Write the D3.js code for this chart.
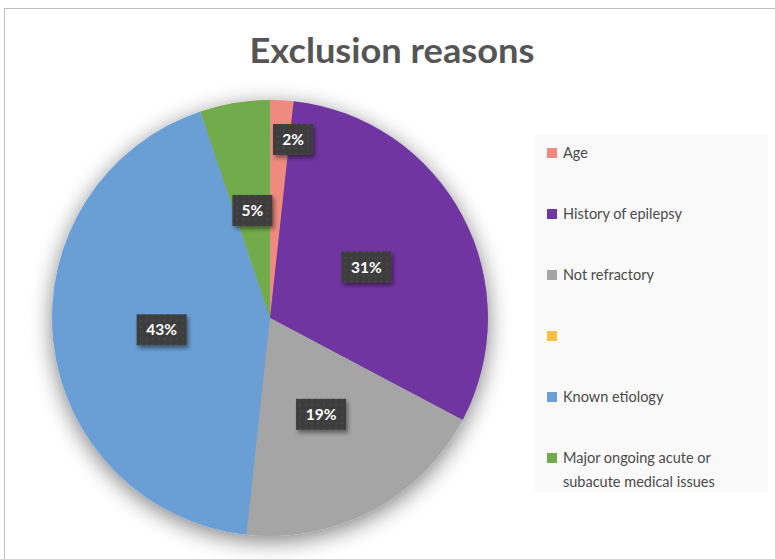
<!DOCTYPE html>
<html>
<head>
<meta charset="utf-8">
<script src="https://cdn.jsdelivr.net/npm/d3@7"></script>
<style>
  body { margin: 0; background: #fff; }
  svg { display: block; }
</style>
</head>
<body>
<svg id="chart"></svg>
<script>
// data
var categories = ["Age", "History of epilepsy", "Not refractory", "", "Known etiology", "Major ongoing acute or subacute medical issues"];
var counts = [1, 18, 11, 0, 25, 3];
var labels = ["2%", "31%", "19%", "", "43%", "5%"];
var colors = ["#ee8a7e", "#6f35a0", "#a5a5a5", "#f5c040", "#6a9fd6", "#72ab4c"];
var legendLines = [["Age"], ["History of epilepsy"], ["Not refractory"], [""], ["Known etiology"], ["Major ongoing acute or", "subacute medical issues"]];

var width = 775, height = 559;
var cx = 270, cy = 318, radius = 218;

var svg = d3.select("#chart")
    .attr("width", width)
    .attr("height", height);

var defs = svg.append("defs");

// soft glow round the pie
var glow = defs.append("filter")
    .attr("id", "glow")
    .attr("x", "-30%").attr("y", "-30%")
    .attr("width", "160%").attr("height", "160%");
glow.append("feGaussianBlur").attr("in", "SourceAlpha").attr("stdDeviation", 11);
glow.append("feOffset").attr("dy", 5).attr("result", "b");
glow.append("feComponentTransfer").append("feFuncA").attr("type", "linear").attr("slope", 0.5);
var gm = glow.append("feMerge");
gm.append("feMergeNode");
gm.append("feMergeNode").attr("in", "SourceGraphic");

// shadow under label boxes
var boxShadow = defs.append("filter")
    .attr("id", "boxshadow")
    .attr("x", "-30%").attr("y", "-30%")
    .attr("width", "170%").attr("height", "170%");
boxShadow.append("feGaussianBlur").attr("in", "SourceAlpha").attr("stdDeviation", 2);
boxShadow.append("feOffset").attr("dx", 2).attr("dy", 3);
boxShadow.append("feComponentTransfer").append("feFuncA").attr("type", "linear").attr("slope", 0.45);
var bm = boxShadow.append("feMerge");
bm.append("feMergeNode");
bm.append("feMergeNode").attr("in", "SourceGraphic");

// dotted texture of the label boxes
var pat = defs.append("pattern")
    .attr("id", "dots")
    .attr("width", 6).attr("height", 6)
    .attr("patternUnits", "userSpaceOnUse");
pat.append("rect").attr("width", 6).attr("height", 6).attr("fill", "#3d3d3d");
pat.append("circle").attr("cx", 3).attr("cy", 3).attr("r", 0.8).attr("fill", "#555");

// chart frame
svg.append("rect")
    .attr("x", 4.5).attr("y", 8.5)
    .attr("width", 800).attr("height", 600)
    .attr("fill", "#fff")
    .attr("stroke", "#bfbfbf");

// title
svg.append("text")
    .attr("x", 392)
    .attr("y", 63)
    .attr("text-anchor", "middle")
    .style("font-family", "Lato, 'Open Sans', sans-serif")
    .style("font-weight", "bold")
    .style("font-size", "35px")
    .attr("textLength", 285)
    .attr("lengthAdjust", "spacingAndGlyphs")
    .attr("fill", "#555")
    .text("Exclusion reasons");

// pie
var pie = d3.pie().sort(null).value(function(d) { return d; });
var arcs = pie(counts);
var arc = d3.arc().innerRadius(0).outerRadius(radius);
var labelArc = d3.arc().innerRadius(radius * 0.5).outerRadius(radius * 0.5);

var g = svg.append("g")
    .attr("transform", "translate(" + cx + "," + cy + ")");

g.append("g")
    .attr("filter", "url(#glow)")
  .selectAll("path")
    .data(arcs)
  .enter()
  .append("path")
    .attr("d", arc)
    .attr("fill", function(d, i) { return colors[i]; });

function boxW(d) { return labels[d.index].length > 2 ? 50 : 40; }

// data labels
var lab = g.selectAll(".lab")
    .data(arcs.filter(function(d, i) { return labels[i] !== ""; }))
  .enter()
  .append("g")
    .attr("class", "lab")
    .attr("transform", function(d) {
      var c = labelArc.centroid(d);
      var span = d.endAngle - d.startAngle;
      if (span < 0.2) {
        // narrow slice: pushed out, box sits right of the top edge
        var far = d3.arc().innerRadius(radius * 0.82).outerRadius(radius * 0.82).centroid(d);
        c = [3 + boxW(d) / 2, far[1]];
      }
      return "translate(" + c[0] + "," + c[1] + ")";
    });

lab.append("rect")
    .attr("x", function(d) { return -boxW(d) / 2; })
    .attr("y", -15.5)
    .attr("width", boxW)
    .attr("height", 31)
    .attr("fill", "url(#dots)")
    .attr("filter", "url(#boxshadow)");

lab.append("text")
    .attr("text-anchor", "middle")
    .attr("dy", "0.36em")
    .style("font-family", "Lato, 'Open Sans', sans-serif")
    .style("font-weight", "bold")
    .style("font-size", "15.5px")
    .attr("fill", "#fff")
    .text(function(d) { return labels[d.index]; });

// legend
var legend = svg.append("g");
legend.append("rect")
    .attr("x", 535).attr("y", 135)
    .attr("width", 233).attr("height", 357)
    .attr("fill", "#f9f9f9");

var rowY = d3.scalePoint()
    .domain(d3.range(categories.length))
    .range([153, 458]);

var items = legend.selectAll(".item")
    .data(categories)
  .enter()
  .append("g")
    .attr("class", "item")
    .attr("transform", function(d, i) { return "translate(547," + rowY(i) + ")"; });

items.append("rect")
    .attr("x", 0).attr("y", -5)
    .attr("width", 10).attr("height", 10)
    .attr("fill", function(d, i) { return colors[i]; });

items.append("text")
    .attr("x", 16)
    .attr("y", 5)
    .style("font-family", "Lato, 'Open Sans', sans-serif")
    .style("font-size", "14.5px")
    .attr("fill", "#4a4a4a")
    .selectAll("tspan")
    .data(function(d, i) { return legendLines[i]; })
  .enter()
  .append("tspan")
    .attr("x", 16)
    .attr("dy", function(d, j) { return j === 0 ? 0 : 24; })
    .text(function(d) { return d; });
</script>
</body>
</html>
